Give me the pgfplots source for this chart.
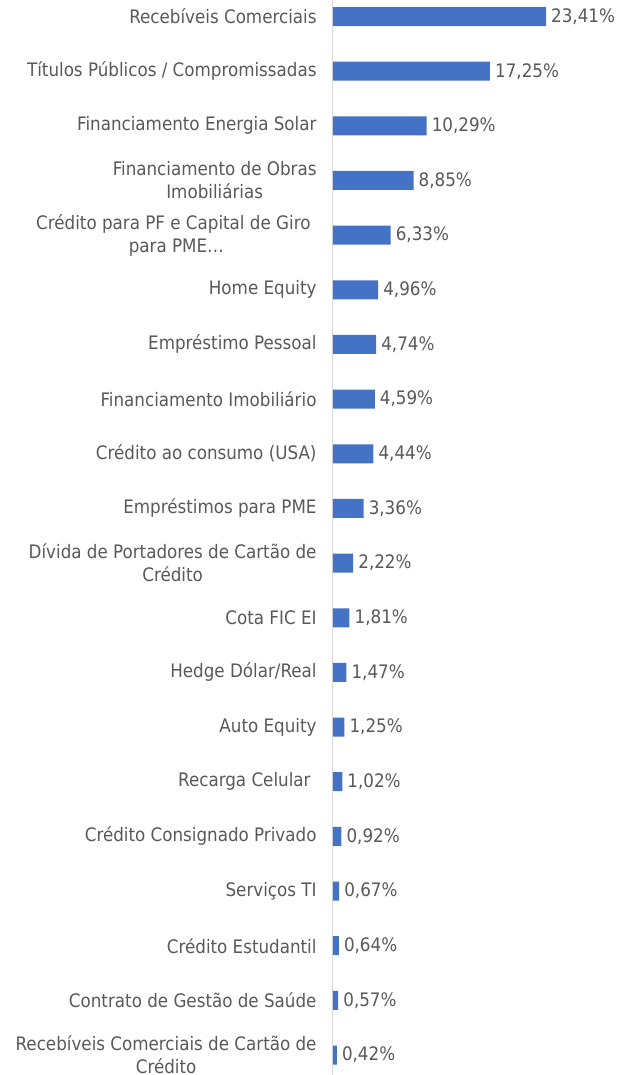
\documentclass[border=0pt]{standalone}
\usepackage{pgfplots}
\pgfplotsset{compat=1.18}
\usepackage{fontspec}
\setmainfont{DejaVu Sans Condensed}
\definecolor{barblue}{HTML}{4472C4}
\definecolor{txtgray}{HTML}{595959}
\definecolor{axgray}{HTML}{D9D9D9}
\begin{document}
\begin{tikzpicture}
\begin{axis}[
  at={(0,0)}, anchor=south west,
  scale only axis,
  width=290bp, height=1075bp,
  xbar, bar width=19bp, bar shift=0pt,
  xmin=0, xmax=31.87,
  y dir=reverse,
  ymin=-0.302, ymax=19.366,
  axis x line=none,
  axis y line*=left,
  y axis line style={draw=axgray, line width=1bp, -},
  ytick={0,...,19},
  ytick style={draw=none},
  yticklabels={
    {Recebíveis Comerciais},
    {Títulos Públicos / Compromissadas},
    {Financiamento Energia Solar},
    {Financiamento de Obras\\Imobiliárias},
    {Crédito para PF e Capital de Giro\rule{6bp}{0pt}\\para PME…},
    {Home Equity},
    {Empréstimo Pessoal},
    {Financiamento Imobiliário},
    {Crédito ao consumo (USA)},
    {Empréstimos para PME},
    {Dívida de Portadores de Cartão de\\Crédito},
    {Cota FIC EI},
    {Hedge Dólar/Real},
    {Auto Equity},
    {Recarga Celular\rule{6bp}{0pt}},
    {Crédito Consignado Privado},
    {Serviços TI},
    {Crédito Estudantil},
    {Contrato de Gestão de Saúde},
    {Recebíveis Comerciais de Cartão de\\Crédito}
  },
  yticklabel style={align=center, inner sep=0pt, xshift=-12bp,
    font=\fontsize{18.6bp}{23bp}\selectfont, text=txtgray},
  point meta=x,
  nodes near coords={\pgfmathprintnumber[fixed,fixed zerofill,precision=2,use comma,assume math mode=true]{\pgfplotspointmeta}\%},
  nodes near coords style={anchor=west, inner sep=0pt, xshift=5bp,
    font=\fontsize{18.6bp}{23bp}\selectfont, text=txtgray},
  clip=false,
]
\addplot[fill=barblue, draw=none] coordinates {
  (23.41,0) (17.25,1) (10.29,2) (8.85,3) (6.33,4)
  (4.96,5) (4.74,6) (4.59,7) (4.44,8) (3.36,9)
  (2.22,10) (1.81,11) (1.47,12) (1.25,13) (1.02,14)
  (0.92,15) (0.67,16) (0.64,17) (0.57,18) (0.42,19)
};
\end{axis}
\pgfresetboundingbox
\path (-333bp,0) rectangle (300bp,1075bp);
\end{tikzpicture}
\end{document}
